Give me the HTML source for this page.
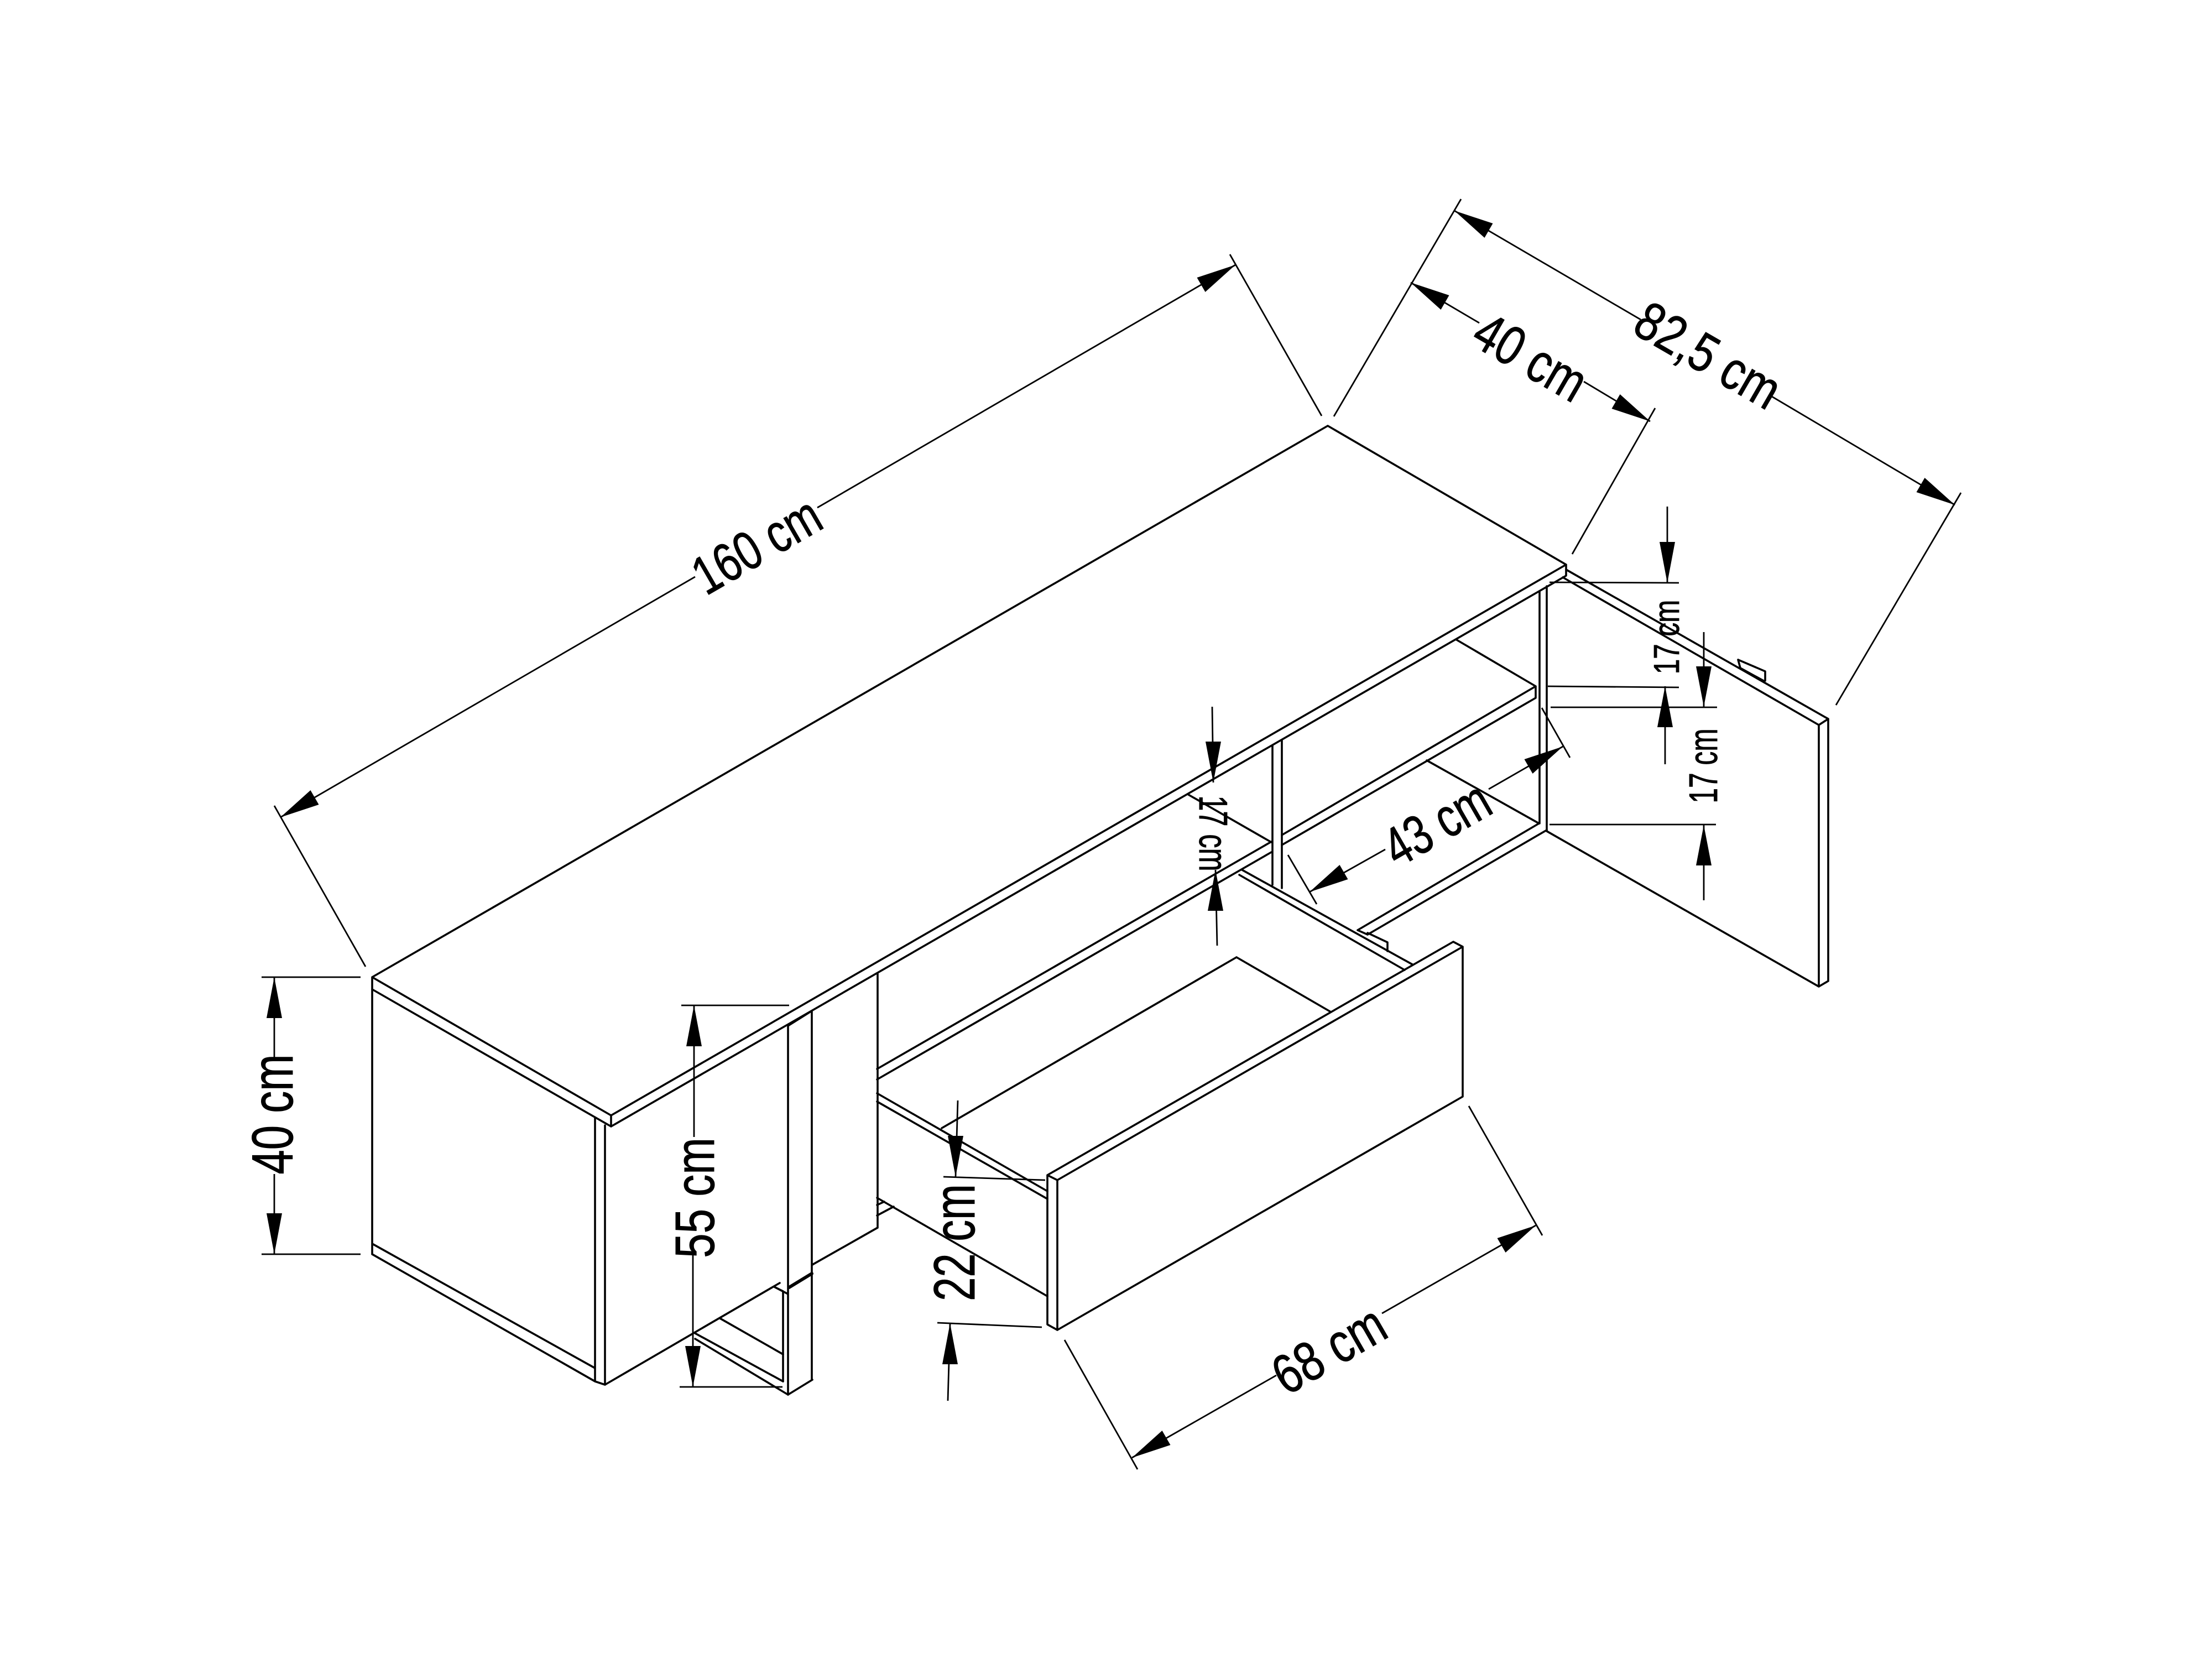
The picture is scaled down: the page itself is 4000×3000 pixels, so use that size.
<!DOCTYPE html>
<html><head><meta charset="utf-8"><style>
html,body{margin:0;padding:0;background:#fff}
svg{display:block}
.s{stroke:#000;stroke-width:3.6;fill:none;stroke-linecap:round;stroke-linejoin:round}
.d{stroke:#000;stroke-width:2.8;fill:none}
text{font-family:"Liberation Sans",sans-serif;text-anchor:middle;fill:#000;stroke:#000;stroke-width:1}
</style></head><body>
<svg xmlns="http://www.w3.org/2000/svg" width="4000" height="3000" viewBox="0 0 4000 3000">
<rect width="4000" height="3000" fill="#fff"/>
<g class="s">
<path d="M673 1767L2401 770L2832 1021L1105 2017ZM673 1767V1789L1105 2037V2017M1105 2037L2832 1041V1021"/>
<path d="M673 1789V2268M673 2249L1076 2474M673 2268L1076 2498M1076 2022V2498M1094 2035V2504M1076 2498L1094 2504M1094 2504L1410 2320M1469 2287L1587 2220M1587 1761V2220"/>
<path d="M1425 1855V2522M1468 1828V2495M1425 1855L1468 1828M1425 2522L1469 2495M1400 2327L1416 2335M1416 2335V2498M1400 2327L1425 2340"/>
<path d="M1427 2328L1468 2303" style="stroke-width:6"/>
<path d="M1257 2411L1416 2498M1257 2421L1425 2522M1302 2384L1416 2449"/>
<path d="M1586 1933L2299 1522M2318 1510L2777 1241V1262L2318 1528M2299 1541L1586 1952M2634 1157L2777 1241M2149 1437L2299 1523"/>
<path d="M2301 1348V1600M2318 1338V1606"/>
<path d="M2784 1070V1489M2797 1060V1503M2832 1030L3306 1300M2826 1044L3289 1311M2797 1503L3289 1784M3289 1311V1784M3306 1300V1774M3289 1784L3306 1774M3289 1311L3306 1300"/>
<path d="M3143 1193L3192 1214V1231M3143 1193L3147 1208L3189 1231"/>
<path d="M2455 1682L2783 1489M2473 1690L2797 1501M2580 1375L2783 1489M2455 1682L2473 1690M2473 1687L2509 1704V1720"/>
<path d="M2246 1573L2554 1744M2241 1582L2540 1754"/>
<path d="M2236 1731L1703 2040M2236 1731L2405 1829"/>
<path d="M1586 1977L1894 2154M1586 1992L1894 2168M1586 2166L1894 2344M1586 2198L1616 2182M1586 2179L1599 2173"/>
<path d="M1894 2125L2628 1703L2645 1712L1912 2134ZM1894 2125V2395L1912 2405V2134M1912 2405L2645 1983V1712"/>
</g>
<g class="d">
<path d="M507 1478L1257 1043M1478 918L2234 479M496 1457L661 1748M2224 460L2390 752"/>
<path d="M2551 511L2675 584M2864 690L2984 762M2412 753L2642 360M2843 1002L2993 738"/>
<path d="M2630 381L2967 578M3204 717L3535 913M3320 1275L3546 891"/>
<path d="M2368 1613L2505 1536M2692 1427L2826 1350M2329 1546L2381 1635M2788 1280L2839 1370"/>
<path d="M2047 2636L2308 2487M2499 2375L2777 2216M1925 2423L2057 2657M2656 2000L2789 2234"/>
<path d="M496 1767V1912M496 2123V2268M473 1767H652M473 2268H652"/>
<path d="M1255 1818V2056M1253 2263V2508M1232 1818H1427M1229 2508H1415"/>
<path d="M1732 1990L1728 2128M1706 2128L1890 2134M1718 2393L1714 2533M1695 2392L1884 2400"/>
<path d="M3015 916V1054M2802 1053L3036 1054M2799 1241L3036 1243M3011 1241V1382M3081 1143V1278M2804 1279H3105M3081 1492V1628M2802 1491H3103"/>
<path d="M2192 1278L2194 1415M2198 1573L2201 1710"/>
</g>
<g fill="#000" stroke="none">
<path d="M507 1478L576.5 1455L561.5 1429ZM2234 479L2179.5 528L2164.5 502Z"/>
<path d="M2551 511L2605.5 560L2620.5 534ZM2984 762L2914.5 739L2929.5 713Z"/>
<path d="M2630 381L2684.5 430L2699.5 404ZM3535 913L3465.5 890L3480.5 864Z"/>
<path d="M2368 1613L2437.5 1590L2422.5 1564ZM2826 1350L2771.5 1399L2756.5 1373Z"/>
<path d="M2047 2636L2116.5 2613L2101.5 2587ZM2777 2216L2722.5 2265L2707.5 2239Z"/>
<path d="M496 1767L482 1841H510ZM496 2268L482 2194H510Z"/>
<path d="M1255 1818L1241 1892H1269ZM1253 2508L1239 2434H1267Z"/>
<path d="M1728 2128L1714 2054H1742ZM1718 2393L1704 2467H1732Z"/>
<path d="M3015 1054L3001 980H3029ZM3011 1241L2997 1315H3025ZM3081 1278L3067 1205H3095ZM3081 1492L3067 1565H3095Z"/>
<path d="M2194 1415L2180 1341H2208ZM2198 1573L2184 1647H2212Z"/>
</g>
<text transform="translate(1368 986) rotate(-30) scale(.78 1)" font-size="98" y="34">160 cm</text>
<text transform="translate(3089 642) rotate(30) scale(.82 1)" font-size="98" y="34">82,5 cm</text>
<text transform="translate(2768 645) rotate(30) scale(.8 1)" font-size="100" y="35">40 cm</text>
<text transform="translate(2598 1489) rotate(-30) scale(.75 1)" font-size="100" y="35">43 cm</text>
<text transform="translate(2403 2440) rotate(-30) scale(.8 1)" font-size="100" y="35">68 cm</text>
<text transform="translate(492 2015) rotate(-90) scale(.76 1)" font-size="105" y="37">40 cm</text>
<text transform="translate(1256 2166) rotate(-90) scale(.8 1)" font-size="100" y="35">55 cm</text>
<text transform="translate(1725 2247) rotate(-90) scale(.74 1)" font-size="105" y="37">22 cm</text>
<text transform="translate(3013 1152) rotate(-90) scale(.76 1)" font-size="65" y="23">17 cm</text>
<text transform="translate(3080 1385) rotate(-90) scale(.69 1)" font-size="72" y="25">17 cm</text>
<text transform="translate(2194 1507) rotate(90) scale(.7 1)" font-size="72" y="25">17 cm</text>
</svg>
</body></html>
